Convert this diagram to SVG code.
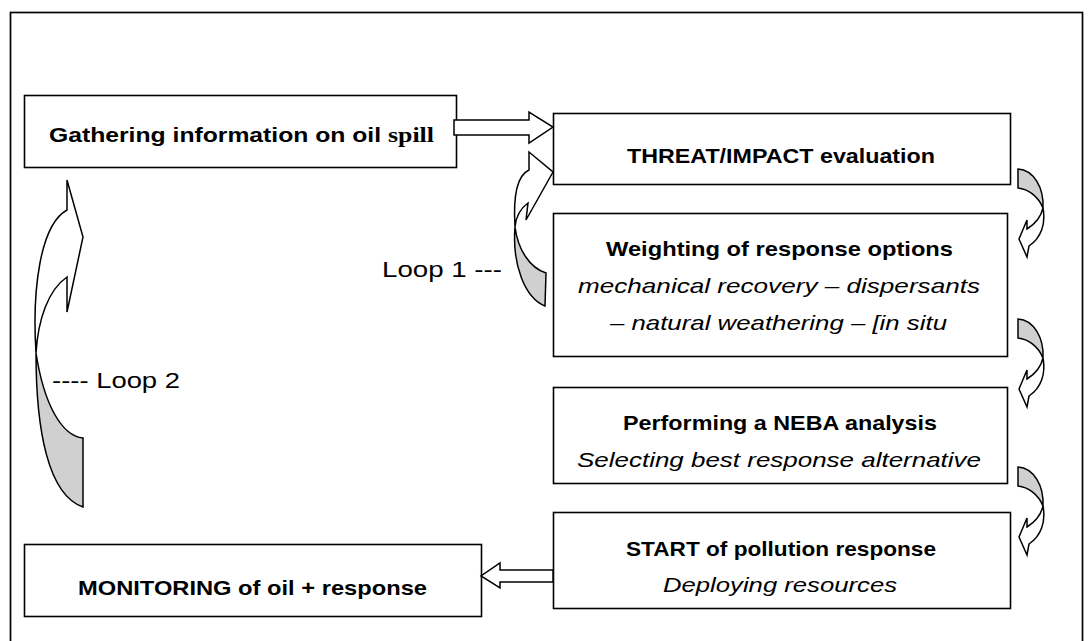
<svg xmlns="http://www.w3.org/2000/svg" width="1092" height="641" viewBox="0 0 1092 641">
<style>
.box{fill:#fff;stroke:#000;stroke-width:1.6}
.b{font-family:"Liberation Sans",Arial,sans-serif;font-weight:bold;font-size:21px;fill:#000}
.i{font-family:"Liberation Sans",Arial,sans-serif;font-style:italic;font-size:21px;fill:#000}
.r{font-family:"Liberation Sans",Arial,sans-serif;font-size:22px;fill:#000}
.w{fill:#fff;stroke:#000;stroke-width:1.5;stroke-linejoin:miter}
.g{fill:#d0d0d0;stroke:#000;stroke-width:1.5}
</style>
<rect x="0" y="0" width="1092" height="641" fill="#fff"/>
<rect x="10.5" y="12.5" width="1072" height="660" fill="none" stroke="#000" stroke-width="1.7"/>

<g id="gathering">
<rect class="box" x="24.5" y="95.5" width="432" height="72"/>
<text class="b" x="49" y="142" textLength="385" lengthAdjust="spacingAndGlyphs">Gathering information on oil <tspan font-family="Liberation Serif,serif" font-size="22px">spill</tspan></text>
</g>
<g id="threat">
<rect class="box" x="553.5" y="113.5" width="457" height="71"/>
<text class="b" x="627" y="163" textLength="308" lengthAdjust="spacingAndGlyphs">THREAT/IMPACT evaluation</text>
</g>
<g id="weighting">
<rect class="box" x="553.5" y="213.5" width="454" height="143"/>
<text class="b" x="606" y="256" textLength="347" lengthAdjust="spacingAndGlyphs">Weighting of response options</text>
<text class="i" x="578" y="293" textLength="402" lengthAdjust="spacingAndGlyphs">mechanical recovery – dispersants</text>
<text class="i" x="610" y="330" textLength="337" lengthAdjust="spacingAndGlyphs">– natural weathering – [in situ</text>
</g>
<g id="neba">
<rect class="box" x="553.5" y="387.5" width="454" height="96"/>
<text class="b" x="623" y="430" textLength="314" lengthAdjust="spacingAndGlyphs">Performing a NEBA analysis</text>
<text class="i" x="577" y="467" textLength="404" lengthAdjust="spacingAndGlyphs">Selecting best response alternative</text>
</g>
<g id="start">
<rect class="box" x="553.5" y="512.5" width="457" height="96"/>
<text class="b" x="626" y="556" textLength="310" lengthAdjust="spacingAndGlyphs">START of pollution response</text>
<text class="i" x="663" y="592" textLength="234" lengthAdjust="spacingAndGlyphs">Deploying resources</text>
</g>
<g id="monitoring">
<rect class="box" x="24.5" y="544.5" width="457" height="72"/>
<text class="b" x="78" y="595" textLength="349" lengthAdjust="spacingAndGlyphs">MONITORING of oil + response</text>
</g>

<g id="connectors">
<polygon class="w" points="454,120 529,120 529,112 553,127 529,143 529,135 454,135"/>
<polygon class="w" points="553,570 500,570 500,563 481,576 500,588 500,582 553,582"/>

<g id="loop1">
<path class="g" d="M515,227 C512,265 525,298 545,306 L546,273 C530,268 518,250 515,227 Z"/>
<path class="w" d="M515,227 C513,195 518,175 529,170 L529,152 L553,172 L526,220 L528,203 C521,208 516,216 515,227 Z"/>
</g>
<g id="loop2">
<path class="g" d="M36,353 C36,430 48,495 83,507 L83,438 C62,436 44,405 36,353 Z"/>
<path class="w" d="M36,353 C32,290 40,225 67,210 L67,180 L83,237 L67,312 L67,277 C48,290 38,320 36,353 Z"/>
</g>

<g id="curve1">
<path class="g" d="M1018,169 C1034,170 1044,188 1043,208 C1038,196 1028,189 1018,188 Z"/>
<path class="w" d="M1043,208 C1046,224 1041,238 1029,246 L1027,257 L1019,239 L1027,220 L1027,229 C1035,224 1041,217 1043,208 Z"/>
</g>
<g id="curve2" transform="translate(0,150)">
<path class="g" d="M1018,169 C1034,170 1044,188 1043,208 C1038,196 1028,189 1018,188 Z"/>
<path class="w" d="M1043,208 C1046,224 1041,238 1029,246 L1027,257 L1019,239 L1027,220 L1027,229 C1035,224 1041,217 1043,208 Z"/>
</g>
<g id="curve3" transform="translate(0,298)">
<path class="g" d="M1018,169 C1034,170 1044,188 1043,208 C1038,196 1028,189 1018,188 Z"/>
<path class="w" d="M1043,208 C1046,224 1041,238 1029,246 L1027,257 L1019,239 L1027,220 L1027,229 C1035,224 1041,217 1043,208 Z"/>
</g>
</g>

<text class="r" x="382" y="277" textLength="120" lengthAdjust="spacingAndGlyphs">Loop 1 ---</text>
<text class="r" x="52" y="388" textLength="128" lengthAdjust="spacingAndGlyphs">---- Loop 2</text>
</svg>
